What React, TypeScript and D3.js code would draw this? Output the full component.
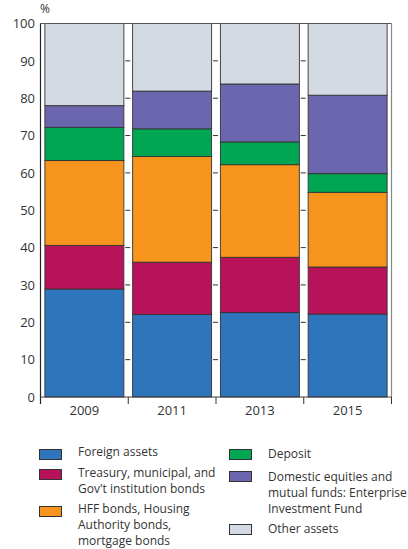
import React from "react";
import * as d3 from "d3";

const years = ["2009", "2011", "2013", "2015"];
const foreignAssets = [28.9, 22.1, 22.6, 22.2];
const treasuryBonds = [11.7, 14.0, 14.8, 12.6];
const hffBonds = [22.7, 28.3, 24.8, 20.0];
const deposit = [8.9, 7.4, 6.1, 5.0];
const domesticEquities = [5.8, 10.1, 15.5, 21.0];
const otherAssets = [22.0, 18.1, 16.2, 19.2];
const yTicks = [0, 10, 20, 30, 40, 50, 60, 70, 80, 90, 100];

const seriesNames = [
  "Foreign assets",
  "Treasury, municipal, and Gov't institution bonds",
  "HFF bonds, Housing Authority bonds, mortgage bonds",
  "Deposit",
  "Domestic equities and mutual funds: Enterprise Investment Fund",
  "Other assets",
];
const seriesValues = [foreignAssets, treasuryBonds, hffBonds, deposit, domesticEquities, otherAssets];
const colors = ["#2e75bb", "#b8135a", "#f7941e", "#00a651", "#6c66ae", "#d3dae4"];

const legendItems = [
  { idx: 0, lines: ["Foreign assets"], sx: 39, sy: 449, ty: 452 },
  { idx: 1, lines: ["Treasury, municipal, and", "Gov't institution bonds"], sx: 39, sy: 469, ty: 473 },
  { idx: 2, lines: ["HFF bonds, Housing", "Authority bonds,", "mortgage bonds"], sx: 39, sy: 506, ty: 509 },
  { idx: 3, lines: ["Deposit"], sx: 229, sy: 449, ty: 454 },
  { idx: 4, lines: ["Domestic equities and", "mutual funds: Enterprise", "Investment Fund"], sx: 229, sy: 471, ty: 477 },
  { idx: 5, lines: ["Other assets"], sx: 229, sy: 524, ty: 529 },
];

export default function App() {
  const W = 408, H = 549;
  const left = 40.5, right = 391.5, top = 23.5, bottom = 397;
  const x = d3.scaleBand<string>().domain(years).range([left, right]).paddingInner(0.1).paddingOuter(0.05);
  const y = d3.scaleLinear().domain([0, 100]).range([bottom, top]);
  const rows = years.map((yr, i) => {
    const r: any = { year: yr };
    seriesNames.forEach((n, k) => (r[n] = seriesValues[k][i]));
    return r;
  });
  const stacked = d3.stack<any>().keys(seriesNames)(rows);
  const step = x.step();
  const boundaries = d3.range(years.length + 1).map((i) => left + i * step);
  const font = "'Open Sans', sans-serif";
  const textColor = "#333";

  return (
    <svg width={W} height={H} style={{ position: "absolute", left: 0, top: 0, background: "#fff" }} fontFamily={font}>
      {/* bars */}
      {stacked.map((s, k) => (
        <g key={k}>
          {s.map((d, i) => (
            <rect
              key={i}
              x={x(years[i])!}
              width={x.bandwidth()}
              y={y(d[1])}
              height={y(d[0]) - y(d[1])}
              fill={colors[k]}
              stroke="#333"
              strokeWidth={0.9}
            />
          ))}
        </g>
      ))}
      {/* inner ticks at band boundaries */}
      {boundaries.slice(1, years.length).map((b, i) => (
        <g key={i}>
          {yTicks.slice(1, -1).map((t) => (
            <line key={t} x1={b - 3} x2={b + 2} y1={y(t)} y2={y(t)} stroke="#333" strokeWidth={1} />
          ))}
        </g>
      ))}
      {/* frame */}
      <line x1={left} x2={right} y1={top} y2={top} stroke="#555" strokeWidth={1} />
      <line x1={right} x2={right} y1={top} y2={bottom} stroke="#888" strokeWidth={1.2} />
      <line x1={left} x2={left} y1={top} y2={bottom + 7} stroke="#222" strokeWidth={1.2} />
      <line x1={left} x2={right} y1={bottom} y2={bottom} stroke="#444" strokeWidth={1} />
      {boundaries.slice(1).map((b, i) => (
        <line key={i} x1={b} x2={b} y1={bottom} y2={bottom + 7} stroke="#333" strokeWidth={1} />
      ))}
      {/* y tick labels */}
      {yTicks.map((t) => (
        <text key={t} x={35} y={y(t)} dy="0.36em" textAnchor="end" fontSize={13} fill={textColor}>
          {t}
        </text>
      ))}
      <text x={40} y={13} fontSize={12} fill={textColor}>%</text>
      {/* x labels */}
      {years.map((yr) => (
        <text key={yr} x={x(yr)! + x.bandwidth() / 2} y={415} textAnchor="middle" fontSize={13} fill={textColor}>
          {yr}
        </text>
      ))}
      {/* legend */}
      {legendItems.map((it) => (
        <g key={it.idx}>
          <rect x={it.sx + 0.5} y={it.sy + 0.5} width={22} height={10} fill={colors[it.idx]} stroke="#333" strokeWidth={1} />
          {it.lines.map((ln, j) => (
            <text key={j} x={it.sx + 39} y={it.ty + j * 16} dy="0.35em" fontSize={12} fill={textColor}>
              {ln}
            </text>
          ))}
        </g>
      ))}
    </svg>
  );
}
